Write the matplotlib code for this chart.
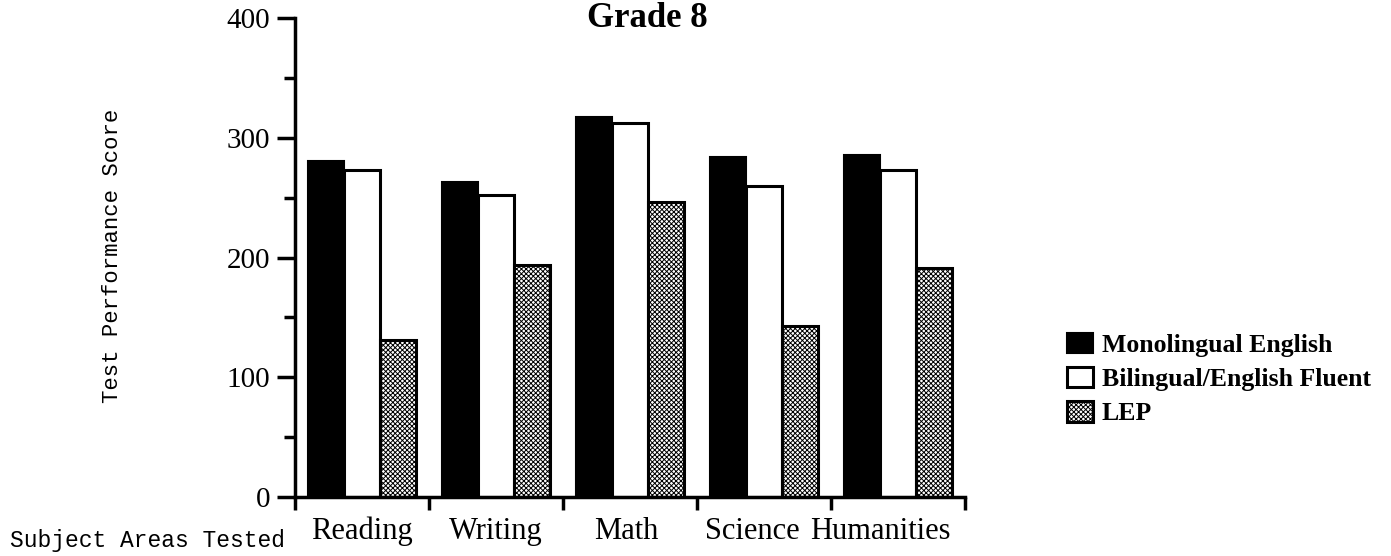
import matplotlib
matplotlib.use("Agg")
import matplotlib.pyplot as plt
import numpy as np

categories = ["Reading", "Writing", "Math", "Science", "Humanities"]
series_names = ["Monolingual English", "Bilingual/English Fluent", "LEP"]
mono = [281, 263, 317, 284, 286]
biling = [273, 252, 312, 260, 273]
lep = [131, 194, 246, 143, 191]
yticks = [0, 100, 200, 300, 400]

plt.rcParams['hatch.linewidth'] = 0.7
serif = ['Liberation Serif', 'DejaVu Serif']
mono_font = ['Liberation Mono', 'DejaVu Sans Mono']

fig = plt.figure(figsize=(13.91, 5.56), dpi=100)
ax = fig.add_axes([295 / 1391, 1 - 497 / 556, 670 / 1391, 479 / 556])

x = np.arange(len(categories))
w = 0.268
b1 = ax.bar(x - w, mono, w, color='black', edgecolor='black', linewidth=1.5)
b2 = ax.bar(x, biling, w, color='white', edgecolor='black', linewidth=2.2)
b3 = ax.bar(x + w, lep, w, color='white', edgecolor='black', linewidth=2.2, hatch='xxxxxxx')

ax.set_ylim(0, 400)
ax.set_xlim(-0.5, 4.5)
ax.set_yticks(yticks)
ax.set_yticks([50, 150, 250, 350], minor=True)
ax.set_yticklabels([str(t) for t in yticks], fontfamily=serif, fontsize=21)
ax.tick_params(axis='y', which='major', length=13, width=2.5, pad=5)
ax.tick_params(axis='y', which='minor', length=8, width=2.5)

# category labels (Science / Humanities sit slightly left of centre in the original)
ax.set_xticks([])
ax.set_xticks(np.arange(len(categories) + 1) - 0.5, minor=True)
ax.tick_params(axis='x', which='minor', length=9, width=2.5, direction='out')
label_dx = [0, 0, -4, -12, -18]
for i, (cat, dx) in enumerate(zip(categories, label_dx)):
    ax.annotate(cat, xy=(x[i], 0), xycoords=('data', 'axes fraction'),
                xytext=(dx, -20), textcoords='offset pixels',
                ha='center', va='top', fontfamily=serif, fontsize=22,
                annotation_clip=False)

for s in ['top', 'right']:
    ax.spines[s].set_visible(False)
for s in ['left', 'bottom']:
    ax.spines[s].set_linewidth(2.5)

fig.text(647 / 1391, 1 - 2 / 556, "Grade 8", ha='center', va='top',
         fontfamily=serif, fontsize=25, fontweight='bold')
fig.text(112 / 1391, 1 - 256 / 556, "Test Performance Score", rotation=90,
         ha='center', va='center', fontfamily=mono_font, fontsize=16)
fig.text(10 / 1391, 1 - 541 / 556, "Subject Areas Tested", ha='left', va='center',
         fontfamily=mono_font, fontsize=16.5)

leg = fig.legend(handles=[b1, b2, b3], labels=series_names, loc='center left',
                 bbox_to_anchor=(1067 / 1391, 1 - 379 / 556), frameon=False,
                 prop={'family': serif, 'weight': 'bold', 'size': 18.5},
                 handlelength=1.0, handleheight=0.85, handletextpad=0.35,
                 labelspacing=0.4, borderpad=0, borderaxespad=0)

fig.savefig("out.png", dpi=100)
